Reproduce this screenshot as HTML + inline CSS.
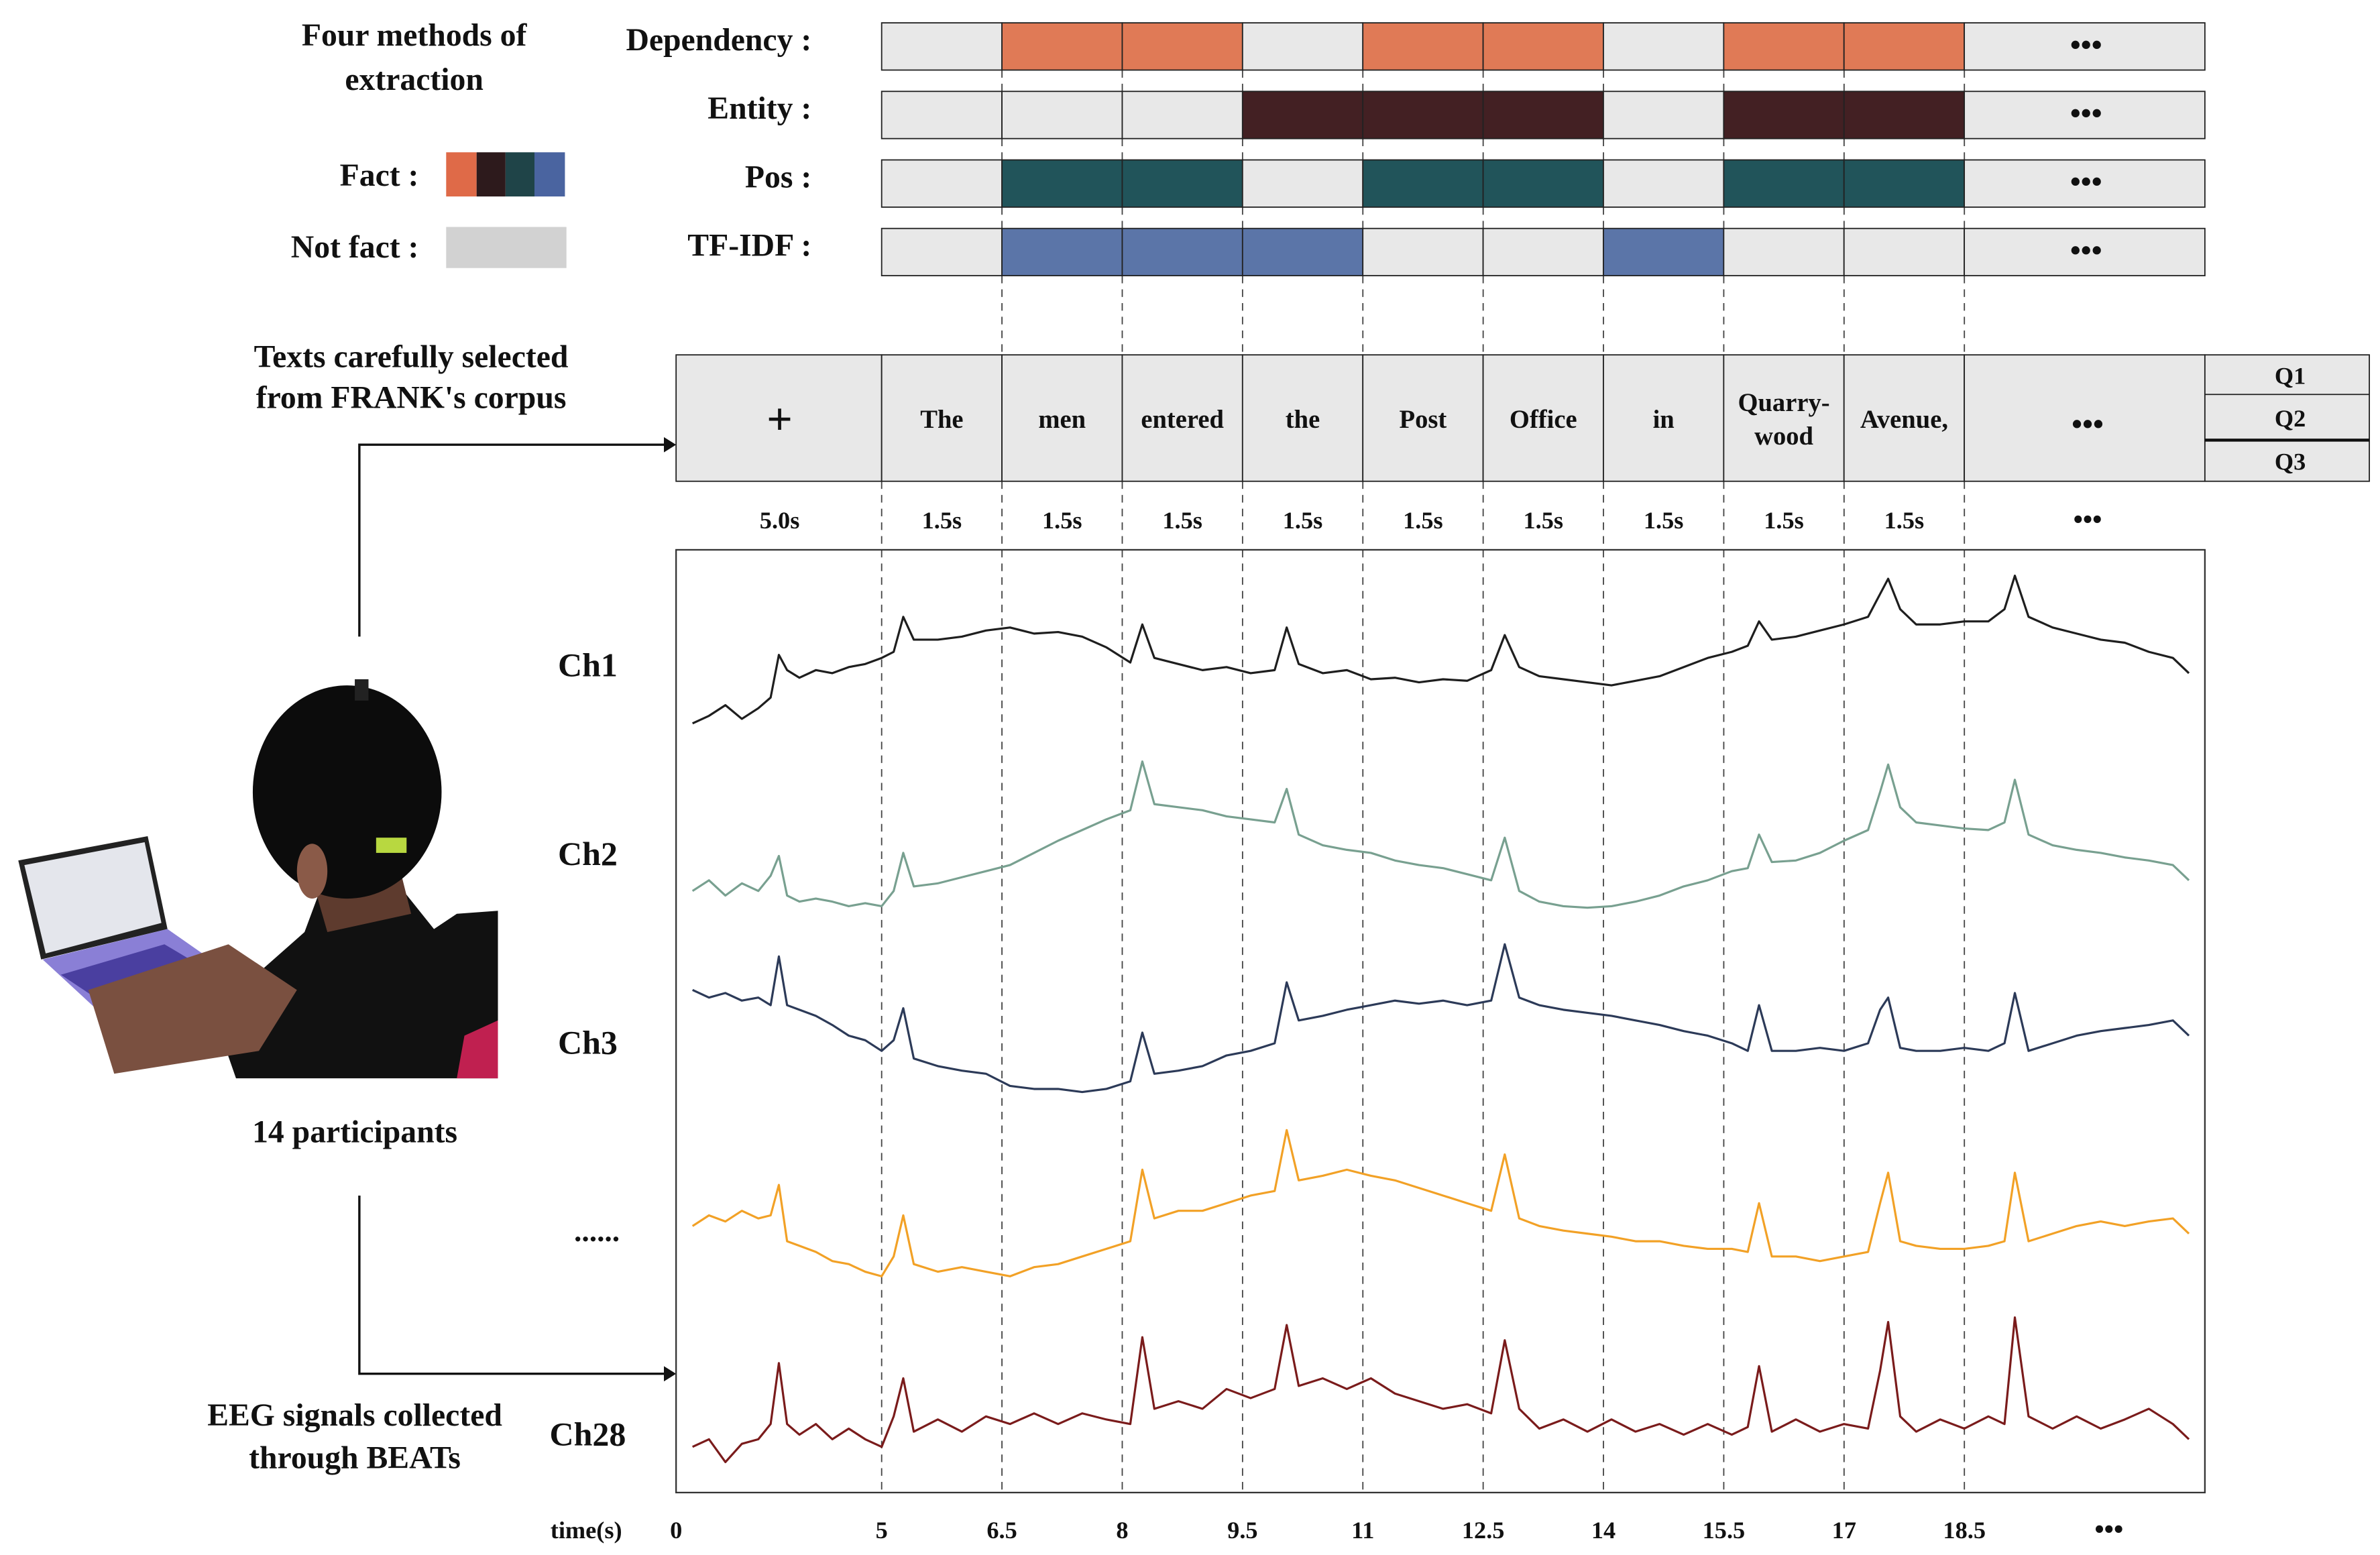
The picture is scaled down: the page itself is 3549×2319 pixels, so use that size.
<!DOCTYPE html>
<html><head><meta charset="utf-8"><style>
html,body{margin:0;padding:0;background:#fff}
svg{display:block}
text{font-family:"Liberation Serif",serif;font-weight:bold;fill:#111}
</style></head><body>
<svg id="fig" width="3549" height="2319" viewBox="0 0 1563 1021" preserveAspectRatio="none" xmlns="http://www.w3.org/2000/svg">
<rect x="0" y="0" width="1563" height="1021" fill="#fff"/>
<g id="dashes"></g>
<g id="bars"></g>
<text x="272" y="30" font-size="21" text-anchor="middle">Four methods of</text>
<text x="272" y="59" font-size="21" text-anchor="middle">extraction</text>
<text x="275" y="122" font-size="21" text-anchor="end">Fact  :</text>
<g>
<rect x="293" y="100" width="20" height="29" fill="#df6a48"/><rect x="313" y="100" width="19" height="29" fill="#2d1a1c"/><rect x="332" y="100" width="19" height="29" fill="#1f4448"/><rect x="351" y="100" width="20" height="29" fill="#4a64a0"/></g>
<text x="275" y="169" font-size="21" text-anchor="end">Not fact  :</text>
<rect x="293" y="149" width="79" height="27" fill="#d2d2d2"/>
<text x="270" y="241" font-size="21" text-anchor="middle">Texts carefully selected</text>
<text x="270" y="268" font-size="21" text-anchor="middle">from FRANK's corpus</text>
<g stroke="#111" stroke-width="1.5" fill="none">
<polyline points="236,418 236,292 438,292"/></g>
<polygon points="444,292 436,287 436,297" fill="#111"/>
<g stroke="#111" stroke-width="1.5" fill="none">
<polyline points="236,785 236,902 438,902"/></g>
<polygon points="444,902 436,897 436,907" fill="#111"/>
<g>
<polygon points="12,565 97,549 110,610 27,630" fill="#222"/>
<polygon points="16,568 95,553 106,606 30,626" fill="#e4e6ec"/>
<polygon points="28,630 110,610 160,645 80,678" fill="#8a7fd6"/>
<polygon points="40,640 108,620 150,645 82,668" fill="#4a3fa0"/>
<polygon points="210,585 265,585 285,610 300,600 327,598 327,708 155,708 140,665 200,612" fill="#111"/>
<polygon points="58,650 150,620 195,650 170,690 75,705" fill="#7a5040"/>
<polygon points="200,560 260,560 270,600 215,612" fill="#5e3b2e"/>
<ellipse cx="228" cy="520" rx="62" ry="70" fill="#0c0c0c"/>
<ellipse cx="205" cy="572" rx="10" ry="18" fill="#8a5a48"/>
<rect x="233" y="446" width="9" height="14" fill="#222"/>
<rect x="247" y="550" width="20" height="10" fill="#b8d840"/>
<polygon points="305,680 327,670 327,708 300,708" fill="#c02050"/>
</g>
<text x="233" y="750" font-size="21" text-anchor="middle">14 participants</text>
<text x="233" y="936" font-size="21" text-anchor="middle">EEG signals collected</text>
<text x="233" y="964" font-size="21" text-anchor="middle">through BEATs</text>
<rect x="444" y="361" width="1004" height="619" fill="none" stroke="#333" stroke-width="1"/>
<g id="signals"></g>
<g id="axis"></g>
</svg>
<script>
const methods = ["Dependency :", "Entity :", "Pos :", "TF-IDF :"];
const depFlags = [0,1,1,0,1,1,0,1,1];
const entFlags = [0,0,0,1,1,1,0,1,1];
const posFlags = [0,1,1,0,1,1,0,1,1];
const tfidfFlags = [0,1,1,1,0,0,1,0,0];
const words = ["The","men","entered","the","Post","Office","in","Quarry-|wood","Avenue,"];
const durations = ["5.0s","1.5s","1.5s","1.5s","1.5s","1.5s","1.5s","1.5s","1.5s","1.5s"];
const tickLabels = ["0","5","6.5","8","9.5","11","12.5","14","15.5","17","18.5"];
const tickValues = [0,5,6.5,8,9.5,11,12.5,14,15.5,17,18.5];
const channels = ["Ch1","Ch2","Ch3","......","Ch28"];
const times = [0.4,0.8,1.2,1.6,2.0,2.3,2.5,2.7,3.0,3.4,3.8,4.2,4.6,5.0,5.15,5.27,5.4,5.7,6.0,6.3,6.6,6.9,7.2,7.5,7.8,8.1,8.25,8.4,8.7,9.0,9.3,9.6,9.9,10.05,10.2,10.5,10.8,11.1,11.4,11.7,12.0,12.3,12.6,12.77,12.95,13.2,13.5,13.8,14.1,14.4,14.7,15.0,15.3,15.6,15.8,15.94,16.1,16.4,16.7,17.0,17.3,17.45,17.55,17.7,17.9,18.2,18.5,18.8,19.0,19.13,19.3,19.6,19.9,20.2,20.5,20.8,21.1,21.3];
const ch1 = [-35,-30,-23,-32,-25,-18,10,0,-5,0,-2,2,4,8,12,35,20,20,22,26,28,24,25,22,15,5,30,8,4,0,2,-2,0,28,4,-2,0,-6,-5,-8,-6,-7,0,23,2,-4,-6,-8,-10,-7,-4,2,8,12,16,32,20,22,26,30,35,50,60,40,30,30,32,32,40,62,35,28,24,20,18,12,8,-2];
const ch2 = [-25,-18,-28,-20,-25,-15,-2,-28,-32,-30,-32,-35,-33,-35,-25,0,-22,-20,-16,-12,-8,0,8,15,22,28,60,32,30,28,24,22,20,42,12,5,2,0,-5,-8,-10,-14,-18,10,-25,-32,-35,-36,-35,-32,-28,-22,-18,-12,-10,12,-6,-5,0,8,15,40,58,30,20,18,16,15,20,48,12,5,2,0,-3,-5,-8,-18];
const ch3 = [35,30,33,28,30,25,57,25,22,18,12,5,2,-5,2,23,-10,-15,-18,-20,-28,-30,-30,-32,-30,-25,7,-20,-18,-15,-8,-5,0,40,15,18,22,25,28,26,28,25,28,65,30,25,22,20,18,15,12,8,5,0,-5,25,-5,-5,-3,-5,0,22,30,-3,-5,-5,-3,-5,0,33,-5,0,5,8,10,12,15,5];
const chN = [5,12,8,15,10,12,32,-5,-8,-12,-18,-20,-25,-28,-15,12,-20,-25,-22,-25,-28,-22,-20,-15,-10,-5,42,10,15,15,20,25,28,68,35,38,42,38,35,30,25,20,15,52,10,5,2,0,-2,-5,-5,-8,-10,-10,-12,20,-15,-15,-18,-15,-12,20,40,-5,-8,-10,-10,-8,-5,40,-5,0,5,8,5,8,10,0];
const ch28 = [-10,-5,-20,-8,-5,5,45,5,-2,5,-5,2,-5,-10,10,35,0,8,0,10,5,12,5,12,8,5,62,15,20,15,28,22,28,70,30,35,28,35,25,20,15,18,12,60,15,2,8,0,8,0,5,-2,5,-2,3,43,0,8,0,5,2,40,72,10,0,8,2,10,5,75,10,2,10,2,8,15,5,-5];

const NS = "http://www.w3.org/2000/svg";
function mk(tag, attrs, parent){const e=document.createElementNS(NS,tag);for(const k in attrs)e.setAttribute(k,attrs[k]);parent.appendChild(e);return e;}
const cellX0 = 579, cellW = 79, barRight = 1448;
const xScale = t => t <= 5 ? 444 + 27*t : 579 + (t-5)*52.67;
const dashG = document.getElementById('dashes'), barsG = document.getElementById('bars');
const sigG = document.getElementById('signals'), axG = document.getElementById('axis');

tickValues.slice(1).forEach((tv,i)=>{
  const x = xScale(tv);
  const l = mk('line',{x1:x,x2:x,y1:i===0?316:46,y2:980,stroke:'#444','stroke-width':0.8,'stroke-dasharray':'5,4'},dashG);
  
  
});

const flagSets = [depFlags, entFlags, posFlags, tfidfFlags];
const colors = ['#e07a56','#432023','#21545a','#5b75a8'];
const rowY = [15,60,105,150];
methods.forEach((m,r)=>{
  const g = mk('g',{},barsG);
  
  
  const lab = mk('text',{x:533,y:rowY[r]+18,'font-size':21,'text-anchor':'end'},g);
  lab.textContent = m;
  
  
  flagSets[r].forEach((f,i)=>{
    const c = mk('rect',{x:cellX0+i*cellW,y:rowY[r],width:cellW,height:31,fill:f?colors[r]:'#e8e8e8',stroke:'#222','stroke-width':0.8},g);
    
    
  });
  const e = mk('rect',{x:cellX0+9*cellW,y:rowY[r],width:barRight-(cellX0+9*cellW),height:31,fill:'#e8e8e8',stroke:'#222','stroke-width':0.8},g);
  
  
  const d = mk('text',{x:1370,y:rowY[r]+21,'font-size':20,'text-anchor':'middle'},g);
  d.textContent='•••';
  
  
});

const wg = mk('g',{},barsG);


const fix = mk('rect',{x:444,y:233,width:135,height:83,fill:'#e8e8e8',stroke:'#222','stroke-width':0.8},wg);


const plus = mk('text',{x:512,y:285,'font-size':30,'text-anchor':'middle','font-weight':'normal'},wg);
plus.textContent='+';


words.forEach((w,i)=>{
  const x = cellX0+i*cellW;
  const c = mk('rect',{x:x,y:233,width:cellW,height:83,fill:'#e8e8e8',stroke:'#222','stroke-width':0.8},wg);
  
  
  const parts = w.split('|');
  parts.forEach((p,j)=>{
    const t = mk('text',{x:x+cellW/2,y:(parts.length>1?270:281)+j*22,'font-size':17,'text-anchor':'middle'},wg);
    t.textContent=p;
    
    
  });
});
const we = mk('rect',{x:1290,y:233,width:158,height:83,fill:'#e8e8e8',stroke:'#222','stroke-width':0.8},wg);


const wd = mk('text',{x:1371,y:285,'font-size':20,'text-anchor':'middle'},wg);
wd.textContent='•••';


const qbox = mk('rect',{x:1448,y:233,width:108,height:83,fill:'#e8e8e8',stroke:'#222','stroke-width':0.8},wg);


mk('line',{x1:1448,x2:1556,y1:259,y2:259,stroke:'#222','stroke-width':0.8},wg);
mk('line',{x1:1448,x2:1556,y1:289,y2:289,stroke:'#111','stroke-width':2},wg);
[[233,26,'Q1'],[259,30,'Q2'],[289,27,'Q3']].forEach(q=>{
  const t = mk('text',{x:1504,y:q[0]+q[1]/2+6,'font-size':16,'text-anchor':'middle'},wg);
  t.textContent=q[2];
  
  
});
durations.forEach((d,i)=>{
  const x = i===0 ? 512 : cellX0+(i-1)*cellW+cellW/2;
  const t = mk('text',{x:x,y:347,'font-size':16,'text-anchor':'middle'},wg);
  t.textContent=d;
  
  
});
const dd = mk('text',{x:1371,y:347,'font-size':18,'text-anchor':'middle'},wg);
dd.textContent='•••';



const series = [ch1,ch2,ch3,chN,ch28];
const bases = [440,560,685,810,940];
const sColors = ['#1e1e1e','#78a090','#2c3a58','#f2a126','#7a1b1b'];
const labelY = [444,568,692,815,949];
series.forEach((vals,s)=>{
  const pts = vals.map((v,i)=>xScale(times[i]).toFixed(1)+','+(bases[s]-v).toFixed(1)).join(' ');
  const p = mk('polyline',{points:pts,fill:'none',stroke:sColors[s],'stroke-width':1.4,'stroke-linejoin':'round'},sigG);
  
  
  const t = mk('text',{x:channels[s]==='......'?392:386,y:labelY[s],'font-size':channels[s]==='......'?20:22,'text-anchor':'middle'},sigG);
  t.textContent=channels[s];
  
  
});

const tl = mk('text',{x:385,y:1010,'font-size':16,'text-anchor':'middle'},axG);
tl.textContent='time(s)';


tickLabels.forEach((lb,i)=>{
  const t = mk('text',{x:xScale(tickValues[i]),y:1010,'font-size':16,'text-anchor':'middle'},axG);
  t.textContent=lb;
  
  
});
const ae = mk('text',{x:1385,y:1010,'font-size':18,'text-anchor':'middle'},axG);
ae.textContent='•••';


</script>
</body></html>
